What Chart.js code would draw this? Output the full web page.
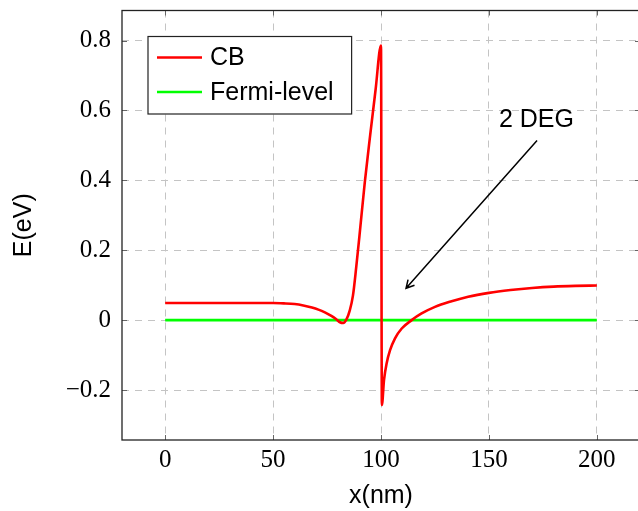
<!DOCTYPE html>
<html>
<head>
<meta charset="utf-8">
<script src="https://cdn.jsdelivr.net/npm/chart.js@4/dist/chart.umd.min.js"></script>
<style>
  html, body { margin: 0; padding: 0; background: #fff; overflow: hidden; }
  #wrap { width: 640px; height: 511px; }
</style>
</head>
<body>
<div id="wrap"><canvas id="c" width="640" height="511"></canvas></div>
<script>
// ---- data ----
const cbX = [0, 10, 20, 30, 40, 50, 55, 60, 64, 68, 71, 74, 77, 79, 81, 82.5, 84, 85.5, 87, 88.5, 90, 92.5, 95, 97.5, 100,
             100.4, 101.4, 102.6, 104.2, 106.5, 109.6, 114.2, 118.8, 125, 132.7, 140.4, 150, 160, 170, 180, 190, 200];
const cbY = [0.049, 0.049, 0.049, 0.049, 0.049, 0.049, 0.048, 0.046, 0.042, 0.036, 0.030, 0.022, 0.012, 0.004, -0.006, -0.008, 0.002, 0.027, 0.07, 0.15, 0.24, 0.395, 0.53, 0.66, 0.786,
             -0.243, -0.171, -0.124, -0.086, -0.052, -0.024, 0.0, 0.019, 0.038, 0.054, 0.067, 0.078, 0.086, 0.092, 0.096, 0.098, 0.099];
const fermiX = [0, 200];
const fermiY = [0, 0];
const seriesLabels = ['CB', 'Fermi-level'];
const xTicks = [0, 50, 100, 150, 200];
const yTicks = [-0.2, 0, 0.2, 0.4, 0.6, 0.8];
const annotText = '2 DEG';
const annotTextAt = [172.0, 0.571];
const arrowFrom = [172.3, 0.514];
const arrowTo = [111.6, 0.091];

const toPts = (xs, ys) => xs.map((x, i) => ({ x: x, y: ys[i] }));

const SANS = '"Liberation Sans", Arial, sans-serif';
const SERIF = '"Liberation Serif", "Times New Roman", serif';

const framePlugin = {
  id: 'frame',
  afterDatasetsDraw(chart) {
    const ctx = chart.ctx;
    const a = chart.chartArea;
    const xs = chart.scales.x, ys = chart.scales.y;
    ctx.save();
    // inner tick marks
    ctx.strokeStyle = '#666';
    ctx.lineWidth = 1;
    ctx.beginPath();
    xTicks.forEach(v => {
      const px = Math.round(xs.getPixelForValue(v)) + 0.5;
      ctx.moveTo(px, a.bottom); ctx.lineTo(px, a.bottom - 5);
      ctx.moveTo(px, a.top); ctx.lineTo(px, a.top + 5);
    });
    yTicks.forEach(v => {
      const py = Math.round(ys.getPixelForValue(v)) + 0.5;
      ctx.moveTo(a.left, py); ctx.lineTo(a.left + 5, py);
      ctx.moveTo(a.right, py); ctx.lineTo(a.right - 5, py);
    });
    ctx.stroke();
    // frame
    ctx.strokeStyle = '#222';
    ctx.lineWidth = 1.3;
    ctx.strokeRect(a.left, a.top, a.right - a.left, a.bottom - a.top);

    // annotation arrow
    const x1 = xs.getPixelForValue(arrowFrom[0]), y1 = ys.getPixelForValue(arrowFrom[1]);
    const x2 = xs.getPixelForValue(arrowTo[0]), y2 = ys.getPixelForValue(arrowTo[1]);
    ctx.strokeStyle = '#000';
    ctx.lineWidth = 1.5;
    ctx.beginPath();
    ctx.moveTo(x1, y1); ctx.lineTo(x2, y2);
    const ang = Math.atan2(y2 - y1, x2 - x1);
    const hl = 9, ha = 0.5;
    ctx.moveTo(x2 - hl * Math.cos(ang - ha), y2 - hl * Math.sin(ang - ha));
    ctx.lineTo(x2, y2);
    ctx.lineTo(x2 - hl * Math.cos(ang + ha), y2 - hl * Math.sin(ang + ha));
    ctx.stroke();
    ctx.fillStyle = '#000';
    ctx.font = '25px ' + SANS;
    ctx.textAlign = 'center';
    ctx.textBaseline = 'middle';
    ctx.fillText(annotText, xs.getPixelForValue(annotTextAt[0]), ys.getPixelForValue(annotTextAt[1]));

    // legend
    const ds = chart.data.datasets;
    ctx.font = '25px ' + SANS;
    let maxW = 0;
    ds.forEach(d => { maxW = Math.max(maxW, ctx.measureText(d.label).width); });
    const bx = a.left + 26, by = a.top + 26;
    const bw = 62 + maxW + 18, bh = 77.5;
    ctx.fillStyle = '#fff';
    ctx.fillRect(bx, by, bw, bh);
    ctx.strokeStyle = '#222';
    ctx.lineWidth = 1.2;
    ctx.strokeRect(bx, by, bw, bh);
    ds.forEach((d, i) => {
      const ly = by + 21 + i * 34.6;
      ctx.strokeStyle = d.borderColor;
      ctx.lineWidth = 2.5;
      ctx.beginPath();
      ctx.moveTo(bx + 9, ly); ctx.lineTo(bx + 54, ly);
      ctx.stroke();
      ctx.fillStyle = '#000';
      ctx.textAlign = 'left';
      ctx.textBaseline = 'middle';
      ctx.fillText(d.label, bx + 62, ly + 1);
    });
    ctx.restore();
  }
};

const fmt = v => (v < 0 ? '\u2212' : '') + String(Math.abs(Math.round(v * 10) / 10));
const noPad = s => { s.paddingTop = 0; s.paddingBottom = 0; s.paddingLeft = 0; s.paddingRight = 0; };

new Chart(document.getElementById('c'), {
  type: 'line',
  data: {
    datasets: [
      { label: seriesLabels[0], data: toPts(cbX, cbY), borderColor: '#ff0000', borderWidth: 2.6,
        pointRadius: 0, cubicInterpolationMode: 'monotone', fill: false },
      { label: seriesLabels[1], data: toPts(fermiX, fermiY), borderColor: '#00ff00', borderWidth: 2.6,
        pointRadius: 0, fill: false }
    ]
  },
  options: {
    responsive: false,
    animation: false,
    layout: { padding: { top: 10.5, left: 0, right: 0, bottom: 0 } },
    plugins: { legend: { display: false }, tooltip: { enabled: false } },
    scales: {
      x: {
        type: 'linear', min: -20, max: 220,
        afterBuildTicks: s => { s.ticks = xTicks.map(v => ({ value: v })); },
        afterFit: s => { s.height = 71; noPad(s); },
        grid: { color: '#c4c4c4', lineWidth: 1, drawTicks: false },
        border: { display: false, dash: [7, 6] },
        ticks: { color: '#000', font: { family: SERIF, size: 25 }, padding: 5, maxRotation: 0,
                 callback: v => fmt(v) },
        title: { display: true, text: 'x(nm)', color: '#000', font: { family: SANS, size: 25 }, padding: { top: 0, bottom: 0 } }
      },
      y: {
        type: 'linear', min: -0.343, max: 0.886,
        afterBuildTicks: s => { s.ticks = yTicks.map(v => ({ value: v })); },
        afterFit: s => { s.width = 122; noPad(s); },
        grid: { color: '#c4c4c4', lineWidth: 1, drawTicks: false },
        border: { display: false, dash: [7, 6] },
        ticks: { color: '#000', font: { family: SERIF, size: 25 }, padding: 11,
                 callback: v => fmt(v) },
        title: { display: true, text: 'E(eV)', color: '#000', font: { family: SANS, size: 25 }, padding: { top: 9, bottom: 2 } }
      }
    }
  },
  plugins: [framePlugin]
});
</script>
</body>
</html>
